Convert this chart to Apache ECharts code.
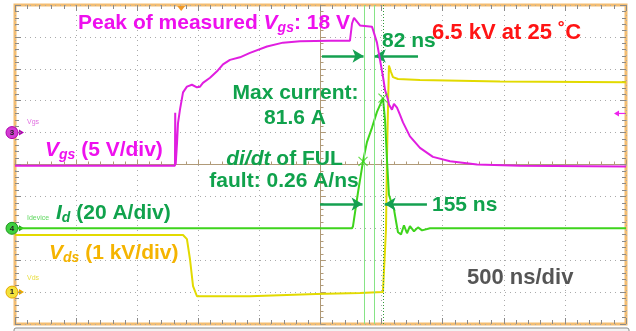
<!DOCTYPE html>
<html>
<head>
<meta charset="utf-8">
<script src="https://cdn.jsdelivr.net/npm/echarts@6/dist/echarts.min.js"></script>
<style>
html,body{margin:0;padding:0;background:#fff;}
#scope{width:636px;height:331px;}
</style>
</head>
<body>
<div id="scope"></div>
<script>
// Horizontal scale: 500 ns/div over 10 divisions
const timeSpanNs = [0, 5000];

// Channel 3: gate-source voltage Vgs (V), 5 V/div
const vgsTime = [0, 1309, 1311, 1315, 1326, 1334, 1350, 1375, 1407, 1448, 1489, 1514, 1538, 1596, 1653, 1702, 1759, 1841, 1923, 2062, 2193, 2332, 2578, 2741, 2758, 2774, 2823, 2921, 2930, 2962, 2987, 3011, 3028, 3052, 3060, 3085, 3101, 3126, 3150, 3175, 3232, 3314, 3420, 3560, 3781, 4132, 5000];
const vgsVolt = [-5.2, -5.2, 3.1, -5.0, -1.6, 1.5, 3.6, 6.3, 7.2, 7.5, 7.1, 7.2, 7.8, 8.6, 9.6, 10.7, 11.4, 11.8, 12.5, 13.5, 14.1, 14.3, 14.4, 14.4, 17.1, 18.0, 16.8, 16.6, 16.1, 14.1, 11.4, 8.8, 6.7, 5.2, 4.4, 3.6, 4.5, 3.9, 2.8, 1.6, -0.6, -2.4, -3.8, -4.5, -5.0, -5.2, -5.3];

// Channel 4: device current Id (A), 20 A/div
const idTime = [0, 2758, 2766, 2807, 2848, 2880, 2921, 2962, 3003, 3011, 3028, 3044, 3060, 3085, 3101, 3118, 3134, 3159, 3183, 3208, 3232, 3265, 3298, 3331, 3396, 5000];
const idAmp = [0, 0, 1.3, 22.6, 42, 54, 63, 73, 80, 81.6, 68, 43, 21, 15, 12, 4.4, -2.5, -3.8, 1.9, -3.1, 1.3, -1.9, 0.6, -1.3, 0, 0];

// Channel 1: drain-source voltage Vds (kV), 1 kV/div
const vdsTime = [0, 1375, 1407, 1432, 1457, 1489, 1923, 2463, 2823, 3011, 3020, 3036, 3044, 3052, 3060, 3077, 3093, 3134, 3314, 3969, 5000];
const vdsKv = [1.79, 1.79, 1.66, 1.03, 0.19, -0.13, -0.13, -0.06, -0.03, 0, 0.05, 1.97, 4.2, 5.7, 7.1, 6.9, 6.74, 6.68, 6.65, 6.6, 6.58];

// Time cursors (ns): start, +82 ns, +155 ns
const cursorTimes = [2856, 2938, 3011];
// di/dt measurement points on Id (ns, A)
const didtTime = [2848, 3011];
const didtAmp = [42, 81.6];
// Trigger settings
const triggerTime = 1360;
const triggerLevelV = 3;

const zip = (a, b) => a.map((v, i) => [v, b[i]]);

const FONT = '"Liberation Sans", Arial, sans-serif';
const C = {
  vgs: '#e01ee0', id: '#3ed41c', vds: '#e2da00',
  magentaText: '#ee10ee', greenText: '#10a24c', redText: '#ff1414',
  yellowText: '#f5b400', grayText: '#555555',
  cursor: '#86e486', cursorDot: '#2f9a3a', arrow: '#14a050'
};

function tok(size, color, italic) {
  return { fontSize: size, fontFamily: FONT, fontWeight: 'bold', fontStyle: italic ? 'italic' : 'normal', fill: color, lineHeight: size + 3 };
}
function sub(size, color, italic) {
  return { fontSize: size, fontFamily: FONT, fontWeight: 'bold', fontStyle: italic ? 'italic' : 'normal', fill: color, lineHeight: size, verticalAlign: 'bottom' };
}
function label(x, y, text, color, size, align) {
  return {
    type: 'text', x: x, y: y, silent: true, z: 100,
    style: {
      text: text, fill: color, fontSize: size, fontFamily: FONT, fontWeight: 'bold',
      align: align || 'left', verticalAlign: 'middle', lineHeight: size + 3,
      rich: { n: tok(size, color, false), i: tok(size, color, true), s: sub(Math.round(size * 0.68), color, true) }
    }
  };
}

// Division axes (-5..5) used for the graticule, the centre cross and the border ticks
const divAxisBase = { type: 'value', min: -5, max: 5, interval: 1, axisLabel: { show: false } };
const tickStyle = { color: '#8a8a8a', width: 1 };
const crossStyle = { color: '#b09a78', width: 1 };
const gridDots = { color: '#aaaaaa', width: 1, type: [1, 4] };

function borderAxis(position) {
  return Object.assign({}, divAxisBase, {
    position: position,
    axisLine: { show: false, onZero: false },
    axisTick: { show: true, inside: true, length: 6, lineStyle: tickStyle },
    minorTick: { show: true, splitNumber: 5, length: 4, lineStyle: tickStyle },
    splitLine: { show: false }
  });
}
function crossAxis(position, zeroIndex) {
  return Object.assign({}, divAxisBase, {
    position: position,
    axisLine: { show: true, onZero: true, onZeroAxisIndex: zeroIndex, lineStyle: crossStyle },
    axisTick: { show: true, inside: true, length: 5, lineStyle: crossStyle },
    minorTick: { show: true, splitNumber: 5, length: 3, lineStyle: crossStyle },
    splitLine: { show: true, lineStyle: gridDots }
  });
}

const chart = echarts.init(document.getElementById('scope'), null, { renderer: 'canvas' });

const option = {
  animation: false,
  backgroundColor: '#ffffff',
  grid: { left: 15, right: 10, top: 5, bottom: 7, show: true, borderColor: '#f3bd72', borderWidth: 3 },
  xAxis: [
    { type: 'value', min: timeSpanNs[0], max: timeSpanNs[1], show: false },
    crossAxis('bottom', 3),
    borderAxis('bottom'),
    borderAxis('top')
  ],
  yAxis: [
    { type: 'value', min: -30, max: 20, show: false },
    { type: 'value', min: -60, max: 140, show: false },
    { type: 'value', min: -1, max: 9, show: false },
    crossAxis('left', 1),
    borderAxis('left'),
    borderAxis('right')
  ],
  series: [
    {
      name: 'Vds', type: 'line', xAxisIndex: 0, yAxisIndex: 2, data: zip(vdsTime, vdsKv),
      showSymbol: false, symbol: 'none', lineStyle: { color: C.vds, width: 2 }, z: 3
    },
    {
      name: 'Id', type: 'line', xAxisIndex: 0, yAxisIndex: 1, data: zip(idTime, idAmp),
      showSymbol: false, symbol: 'none', lineStyle: { color: C.id, width: 2 }, z: 4
    },
    {
      name: 'Vgs', type: 'line', xAxisIndex: 0, yAxisIndex: 0, data: zip(vgsTime, vgsVolt),
      showSymbol: false, symbol: 'none', lineStyle: { color: C.vgs, width: 2 }, z: 5
    },
    {
      name: 'di/dt points', type: 'scatter', xAxisIndex: 0, yAxisIndex: 1, data: zip(didtTime, didtAmp),
      symbol: 'path://M0,0L10,10M0,10L10,0', symbolSize: 9,
      itemStyle: { color: 'rgba(0,0,0,0)', borderColor: C.id, borderWidth: 1.2 }, z: 6
    },
    {
      name: 'cursors', type: 'line', xAxisIndex: 0, yAxisIndex: 3, data: [], z: 2,
      markLine: {
        silent: true, symbol: ['none', 'none'], label: { show: false },
        data: [
          { xAxis: cursorTimes[0], lineStyle: { color: C.cursor, width: 1, type: 'solid' } },
          { xAxis: cursorTimes[1], lineStyle: { color: C.cursor, width: 1, type: 'solid' } },
          { xAxis: cursorTimes[2], lineStyle: { color: C.cursorDot, width: 1, type: [1, 2] } }
        ]
      }
    },
    {
      name: 'arrows', type: 'line', xAxisIndex: 0, yAxisIndex: 3, data: [], z: 7,
      markLine: {
        silent: true, symbol: ['none', 'arrow'], symbolSize: [10, 11], label: { show: false },
        lineStyle: { color: C.arrow, width: 2.5, type: 'solid' },
        data: [
          [{ coord: [2512, 3.4] }, { coord: [cursorTimes[0] - 4, 3.4] }],
          [{ coord: [3298, 3.4] }, { coord: [cursorTimes[1] + 6, 3.4] }],
          [{ coord: [2496, -1.24] }, { coord: [cursorTimes[0] - 12, -1.24] }],
          [{ coord: [3371, -1.24] }, { coord: [cursorTimes[2] + 14, -1.24] }]
        ]
      }
    }
  ]
};

chart.setOption(option);

// Channel ground markers and trigger indicators placed through the axis scales
const yVgs0 = chart.convertToPixel({ yAxisIndex: 0 }, 0);
const yId0 = chart.convertToPixel({ yAxisIndex: 1 }, 0);
const yVds0 = chart.convertToPixel({ yAxisIndex: 2 }, 0);
const yTrig = chart.convertToPixel({ yAxisIndex: 0 }, triggerLevelV);
const xTrig = chart.convertToPixel({ xAxisIndex: 0 }, triggerTime);

function channelMarker(y, num, fill, stroke, tag, tagColor, tagDy) {
  return [
    { type: 'polygon', silent: true, shape: { points: [[19, y - 3], [24, y], [19, y + 3]] }, style: { fill: stroke } },
    { type: 'line', silent: true, shape: { x1: 16, y1: y, x2: 20, y2: y }, style: { stroke: stroke, lineWidth: 1 } },
    { type: 'circle', silent: true, shape: { cx: 12, cy: y, r: 6 }, style: { fill: fill, stroke: stroke, lineWidth: 1 }, z: 101 },
    { type: 'text', silent: true, x: 12, y: y, z: 102, style: { text: num, fill: '#222', fontSize: 8, fontWeight: 'bold', fontFamily: FONT, align: 'center', verticalAlign: 'middle' } },
    { type: 'text', silent: true, x: 27, y: y + tagDy, z: 102, style: { text: tag, fill: tagColor, fontSize: 7, fontFamily: FONT, align: 'left', verticalAlign: 'middle' } }
  ];
}

const graphics = [].concat(
  channelMarker(yVgs0, '3', '#d23cd2', '#b000b0', 'Vgs', '#e070e0', -11),
  channelMarker(yId0, '4', '#3fcf3f', '#1f9a1f', 'Idevice', '#60d860', -10),
  channelMarker(yVds0, '1', '#f2e23a', '#e8a800', 'Vds', '#e8de40', -14),
  [
    { type: 'polygon', silent: true, z: 103, shape: { points: [[xTrig - 4, 6], [xTrig + 4, 6], [xTrig, 11]] }, style: { fill: '#f09a2a' } },
    { type: 'polygon', silent: true, z: 103, shape: { points: [[614, yTrig], [619, yTrig - 3], [619, yTrig + 3]] }, style: { fill: '#ee22ee' } },
    { type: 'line', silent: true, z: 103, shape: { x1: 618, y1: yTrig, x2: 625, y2: yTrig }, style: { stroke: '#ee22ee', lineWidth: 1.2 } },
    { type: 'rect', silent: true, shape: { x: 14, y: 328, width: 615, height: 8, r: 2 }, style: { fill: '#f2f2f2', stroke: '#8a8a8a', lineWidth: 1 } },
    label(78, 23, '{n|Peak of measured }{i|V}{s|gs}{n|: 18 V}', C.magentaText, 21),
    label(45, 150, '{i|V}{s|gs}{n| (5 V/div)}', C.magentaText, 21),
    label(295.5, 93, '{n|Max current:}', C.greenText, 21, 'center'),
    label(295, 118, '{n|81.6 A}', C.greenText, 21, 'center'),
    label(284.5, 159, '{i|di/dt}{n| of FUL}', C.greenText, 21, 'center'),
    label(284, 181, '{n|fault: 0.26 A/ns}', C.greenText, 21, 'center'),
    label(56, 213, '{i|I}{s|d}{n| (20 A/div)}', C.greenText, 21),
    label(49, 253, '{i|V}{s|ds}{n| (1 kV/div)}', C.yellowText, 21),
    label(382, 41, '{n|82 ns}', C.greenText, 21),
    label(432, 32.5, '{n|6.5 kV at 25 \u02daC}', C.redText, 22),
    label(432, 205, '{n|155 ns}', C.greenText, 21),
    label(467, 277.5, '{n|500 ns/div}', C.grayText, 22)
  ]
);

chart.setOption({ graphic: { elements: graphics } });
</script>
</body>
</html>
